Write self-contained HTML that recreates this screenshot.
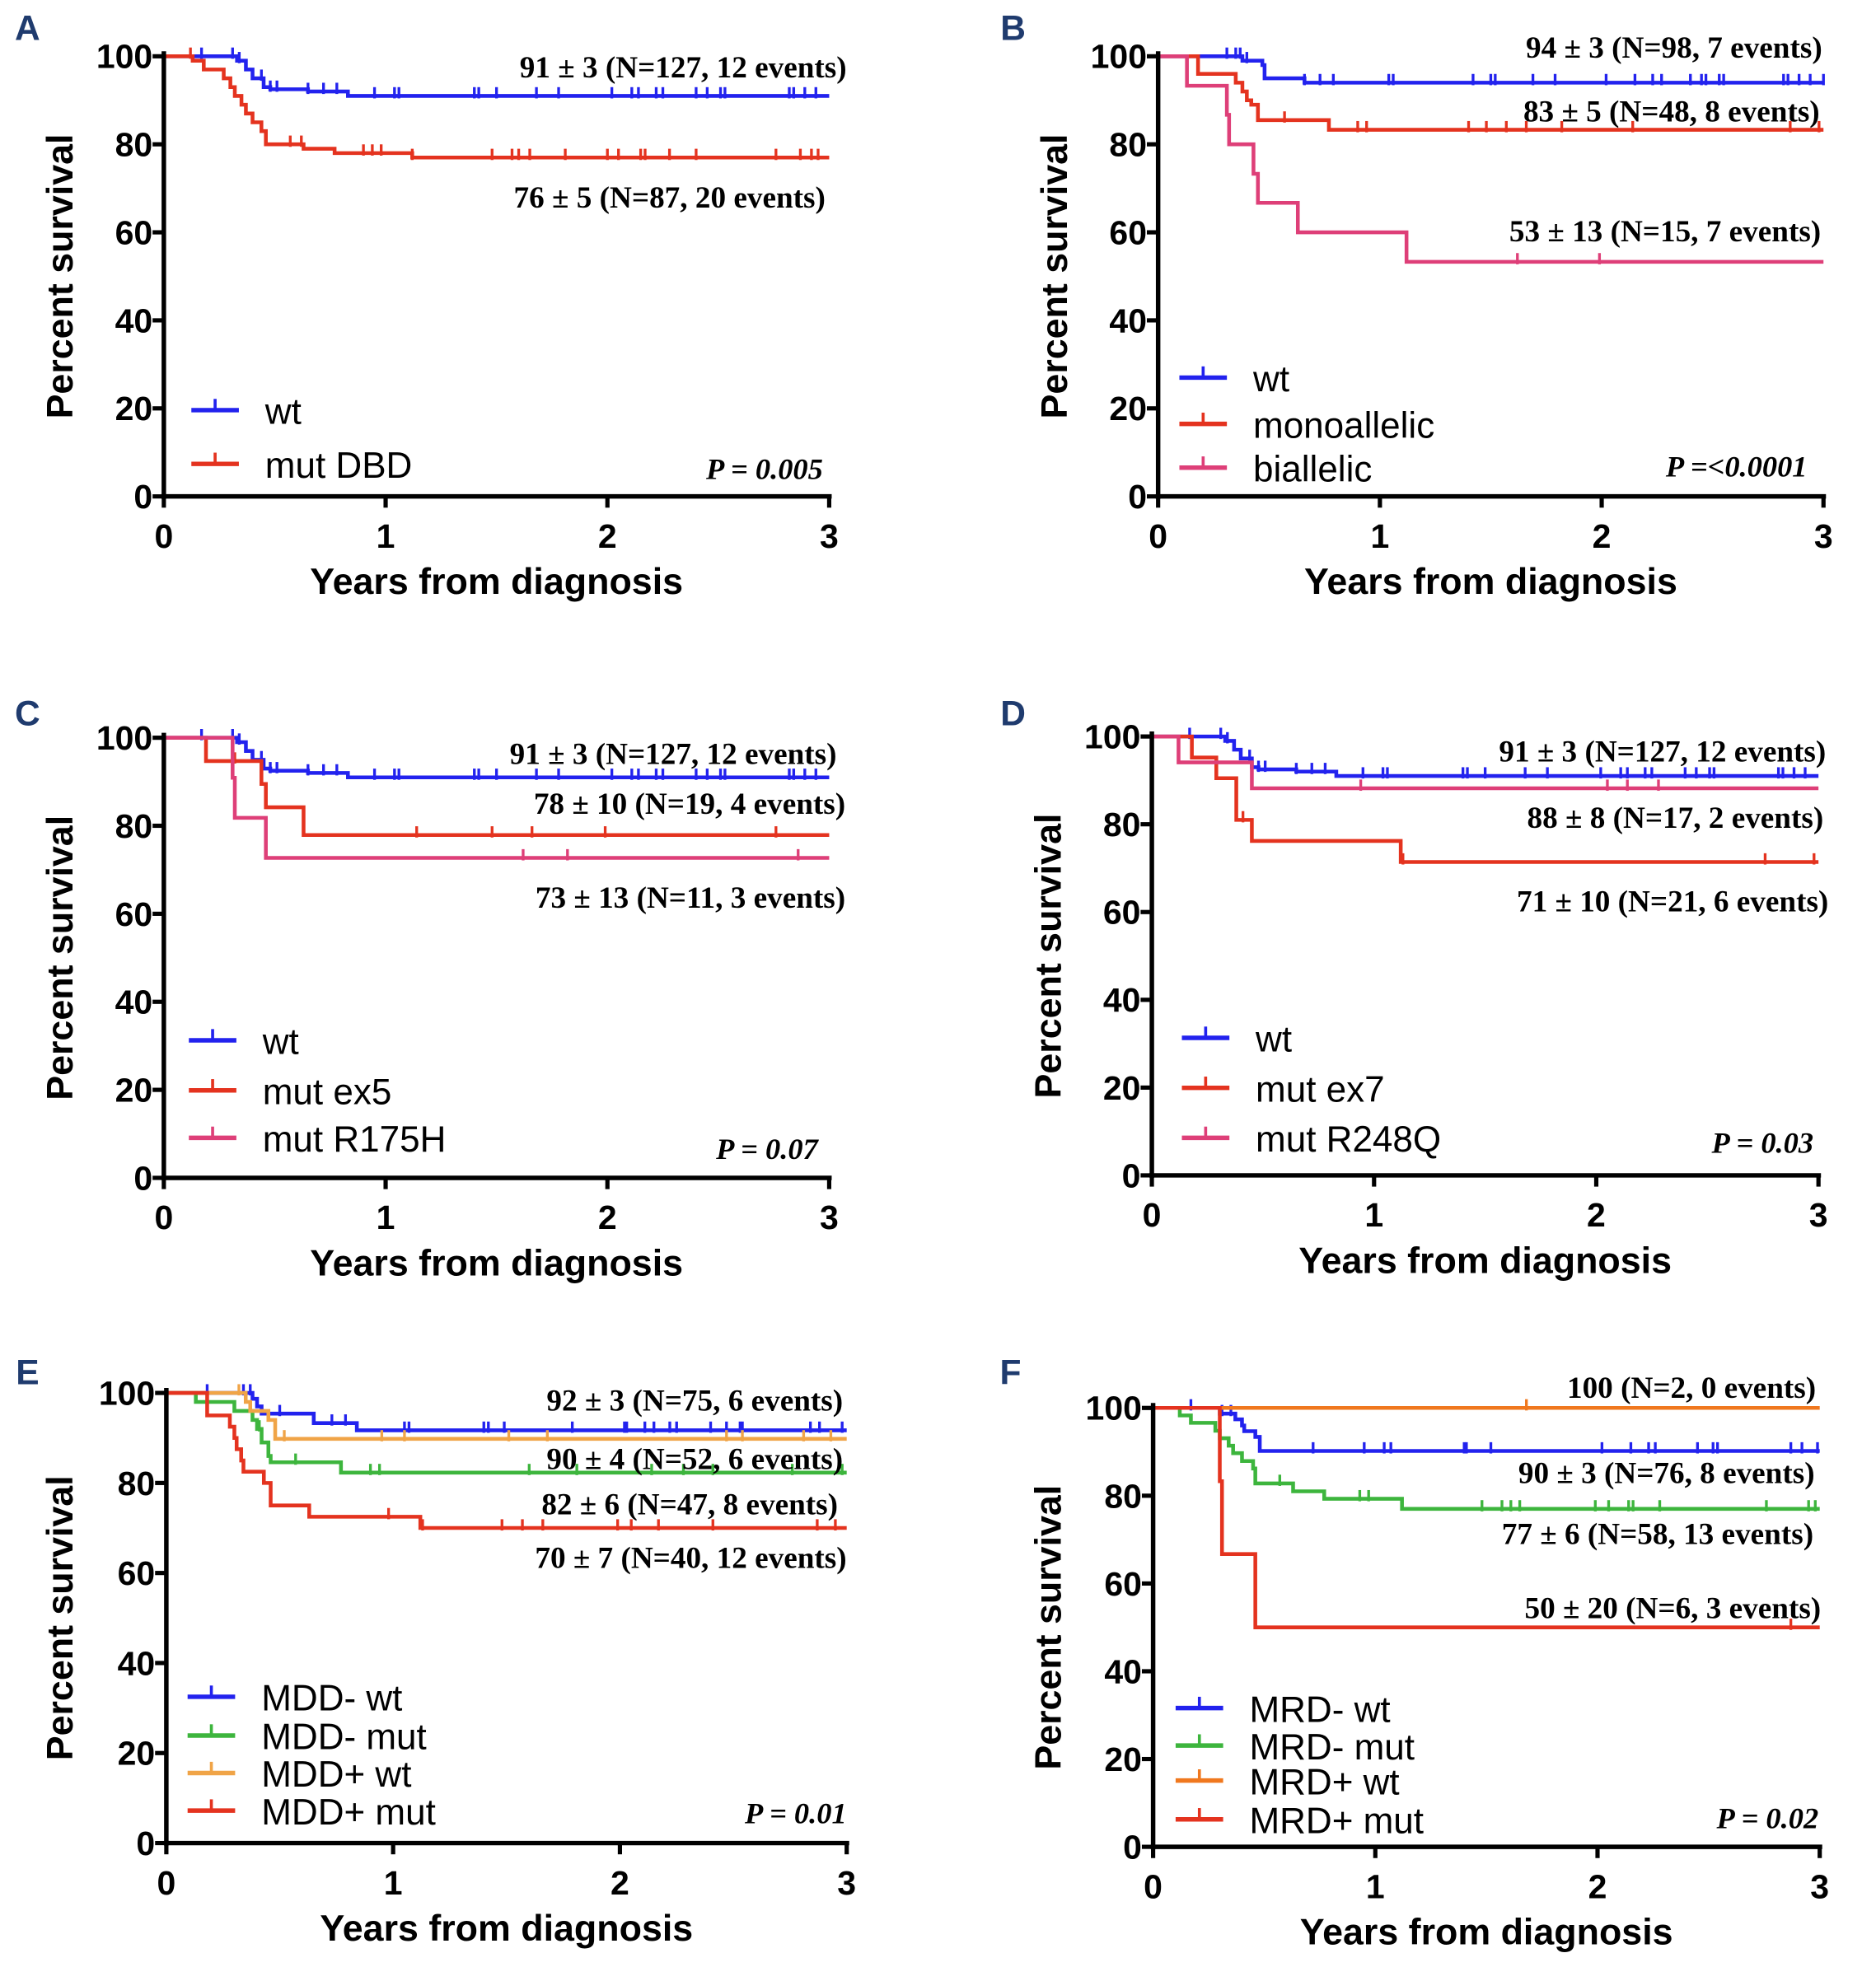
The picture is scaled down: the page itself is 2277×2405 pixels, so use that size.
<!DOCTYPE html>
<html><head><meta charset="utf-8"><style>
html,body{margin:0;padding:0;background:#fff;}
svg{display:block;}
.tick{font-family:"Liberation Sans",sans-serif;font-weight:bold;font-size:27px;fill:#000;}
.atitle{font-family:"Liberation Sans",sans-serif;font-weight:bold;font-size:29.5px;fill:#000;}
.ann{font-family:"Liberation Serif",serif;font-weight:bold;font-size:24.5px;fill:#000;}
.pv{font-family:"Liberation Serif",serif;font-style:italic;font-weight:bold;font-size:24px;fill:#000;}
.leg{font-family:"Liberation Sans",sans-serif;font-size:29px;fill:#000;}
.plab{font-family:"Liberation Sans",sans-serif;font-weight:bold;font-size:28px;fill:#1f3b6e;}
</style></head><body>
<svg id="fig" width="2277" height="2405" viewBox="0 0 1500 1584.3" xmlns="http://www.w3.org/2000/svg"></svg>
<script>
// ---- Data (years, percent survival) ----
const aWtT=[0.33,0.37,0.40,0.45,0.48,0.65,0.83];
const aWtS=[99,97,95,93,92.5,92,91];
const aWtC=[0.17,0.31,0.34,0.44,0.48,0.51,0.65,0.72,0.78,0.95,1.04,1.06,1.40,1.42,1.50,1.68,1.78,2.02,2.11,2.14,2.22,2.25,2.40,2.45,2.51,2.53,2.82,2.84,2.89,2.94];
const aMutT=[0.13,0.18,0.27,0.30,0.32,0.35,0.37,0.40,0.44,0.46,0.63,0.77,1.12];
const aMutS=[99,97,95,93,91,89,87,85,83,80,79,78,77];
const aMutC=[0.12,0.57,0.62,0.90,0.94,0.98,1.12,1.48,1.57,1.60,1.65,1.81,2.0,2.05,2.15,2.17,2.28,2.40,2.76,2.87,2.92,2.95];

const bWtT=[0.38,0.47,0.48,0.66];
const bWtS=[99,98,95,94];
const bWtC=[0.31,0.35,0.37,0.40,0.66,0.73,0.79,1.04,1.06,1.42,1.50,1.52,1.69,1.79,2.02,2.15,2.23,2.27,2.40,2.45,2.47,2.53,2.55,2.82,2.84,2.89,2.94,3.0];
const bMonoT=[0.18,0.35,0.38,0.40,0.42,0.45,0.77];
const bMonoS=[96,94,92,90,89,85.5,83.3];
const bMonoC=[0.57,0.90,0.94,1.40,1.48,1.57,1.66,1.82,2.14,2.85,2.98];
const bBiT=[0.13,0.31,0.32,0.43,0.45,0.63,1.12];
const bBiS=[93.3,86.7,80,73.3,66.7,60,53.3];
const bBiC=[1.62,1.99];

const cWtT=aWtT, cWtS=aWtS, cWtC=aWtC;
const cEx5T=[0.19,0.44,0.46,0.63];
const cEx5S=[94.7,89.5,84.2,77.9];
const cEx5C=[0.32,1.14,1.48,1.66,1.99,2.76];
const cRT=[0.31,0.32,0.46];
const cRS=[90.9,81.8,72.7];
const cRC=[1.62,1.82,2.86];

const dWtT=[0.33,0.37,0.40,0.45,0.48,0.65,0.83];
const dWtS=[99,97,95,93,92.5,92,91];
const dWtC=aWtC;
const dEx7T=[0.18,0.29,0.38,0.45,1.12];
const dEx7S=[95.2,90.5,81,76.2,71.4];
const dEx7C=[0.41,1.13,2.76,2.98];
const dRT=[0.12,0.45];
const dRS=[94.1,88.2];
const dRC=[0.94,2.05,2.14,2.28];

const eMwT=[0.38,0.40,0.42,0.65,0.84];
const eMwS=[98.7,97,95.4,93.3,91.7];
const eMwC=[0.18,0.34,0.37,0.5,0.73,0.79,1.05,1.07,1.4,1.42,1.49,1.79,2.02,2.03,2.11,2.15,2.22,2.25,2.40,2.47,2.53,2.54,2.84,2.88,2.98];
const eMmT=[0.13,0.30,0.38,0.40,0.42,0.45,0.46,0.77];
const eMmS=[98,96,94,92,89,86,84.6,82.3];
const eMmC=[0.41,0.57,0.9,0.94,1.6,1.81,2.14,2.28,2.41,2.76,2.98];
const ePwT=[0.35,0.37,0.45,0.48];
const ePwS=[98,96,94,89.8];
const ePwC=[0.32,0.52,0.95,1.05,1.51,1.68,2.47,2.54,2.81,2.93];
const ePmT=[0.18,0.28,0.30,0.31,0.33,0.34,0.43,0.46,0.63,1.12];
const ePmS=[95,92.5,90,87.5,85,82.5,80,75,72.5,70];
const ePmC=[0.98,1.13,1.48,1.57,1.66,1.99,2.05,2.17,2.41,2.87,2.95];

const fMwT=[0.30,0.37,0.40,0.41,0.46,0.48];
const fMwS=[98.7,97.4,96,94.7,93.4,90.2];
const fMwC=[0.17,0.31,0.35,0.72,0.95,1.04,1.07,1.40,1.41,1.52,2.02,2.15,2.23,2.26,2.45,2.52,2.54,2.87,2.92,2.99];
const fMmT=[0.12,0.17,0.28,0.30,0.34,0.36,0.40,0.45,0.46,0.63,0.77,1.12];
const fMmS=[98.3,96.6,94.8,93.1,91.4,89.7,87.9,86.2,82.8,81,79.3,77];
const fMmC=[0.57,0.93,0.97,1.48,1.57,1.61,1.65,1.99,2.05,2.14,2.16,2.28,2.76,2.95,2.98];
const fPwT=[];
const fPwS=[];
const fPwC=[1.68];
const fPmT=[0.30,0.31,0.46];
const fPmS=[83.3,66.7,50];
const fPmC=[2.87];

const xTicks=[0,1,2,3];
const yTicks=[0,20,40,60,80,100];

const BLUE="#2222ee", RED="#e4331f", PINK="#de3f78", GREEN="#3db53d", ORANGE_E="#f0a447", ORANGE_F="#f0781e";

const NS="http://www.w3.org/2000/svg";
const svg=document.getElementById('fig');
function mk(tag,attrs,parent){const e=document.createElementNS(NS,tag);for(const k in attrs)e.setAttribute(k,attrs[k]);(parent||svg).appendChild(e);return e;}

const panels=[
 {id:'a',letter:'A',lx:22,ly:32,x0:131,x3:663,y100:45,y0:397,ytx:48,
  series:[['wt',aWtT,aWtS,aWtC,BLUE],['mut DBD',aMutT,aMutS,aMutC,RED]],
  ann:[['91 ± 3 (N=127, 12 events)',677,62],['76 ± 5 (N=87, 20 events)',660,166]],
  leg:{x1:153,x2:191,ys:[328,371]}, p:['P = 0.005',658,383]},
 {id:'b',letter:'B',lx:810,ly:32,x0:926,x3:1458,y100:45,y0:397,ytx:843,
  series:[['wt',bWtT,bWtS,bWtC,BLUE],['monoallelic',bMonoT,bMonoS,bMonoC,RED],['biallelic',bBiT,bBiS,bBiC,PINK]],
  ann:[['94 ± 3 (N=98, 7 events)',1457,46],['83 ± 5 (N=48, 8 events)',1455,97],['53 ± 13 (N=15, 7 events)',1456,193]],
  leg:{x1:943,x2:981,ys:[302,339,374]}, p:['P =<0.0001',1445,381]},
 {id:'c',letter:'C',lx:22,ly:580,x0:131,x3:663,y100:590,y0:942,ytx:48,
  series:[['wt',cWtT,cWtS,cWtC,BLUE],['mut ex5',cEx5T,cEx5S,cEx5C,RED],['mut R175H',cRT,cRS,cRC,PINK]],
  ann:[['91 ± 3 (N=127, 12 events)',669,611],['78 ± 10 (N=19, 4 events)',676,651],['73 ± 13 (N=11, 3 events)',676,726]],
  leg:{x1:151,x2:189,ys:[832,872,910]}, p:['P = 0.07',654,927]},
 {id:'d',letter:'D',lx:810,ly:580,x0:921,x3:1454,y100:589,y0:940,ytx:838,
  series:[['wt',dWtT,dWtS,dWtC,BLUE],['mut ex7',dEx7T,dEx7S,dEx7C,RED],['mut R248Q',dRT,dRS,dRC,PINK]],
  ann:[['91 ± 3 (N=127, 12 events)',1460,609],['88 ± 8 (N=17, 2 events)',1458,662],['71 ± 10 (N=21, 6 events)',1462,729]],
  leg:{x1:945,x2:983,ys:[830,870,910]}, p:['P = 0.03',1450,922]},
 {id:'e',letter:'E',lx:22,ly:1107,x0:133,x3:677,y100:1114,y0:1474,ytx:48,
  series:[['MDD- wt',eMwT,eMwS,eMwC,BLUE],['MDD- mut',eMmT,eMmS,eMmC,GREEN],['MDD+ wt',ePwT,ePwS,ePwC,ORANGE_E],['MDD+ mut',ePmT,ePmS,ePmC,RED]],
  ann:[['92 ± 3 (N=75, 6 events)',674,1128],['90 ± 4 (N=52, 6 events)',674,1175],['82 ± 6 (N=47, 8 events)',670,1211],['70 ± 7 (N=40, 12 events)',677,1254]],
  leg:{x1:150,x2:188,ys:[1357,1388,1418,1448]}, p:['P = 0.01',677,1458]},
 {id:'f',letter:'F',lx:808,ly:1107,x0:922,x3:1455,y100:1126,y0:1477,ytx:838,
  series:[['MRD- wt',fMwT,fMwS,fMwC,BLUE],['MRD- mut',fMmT,fMmS,fMmC,GREEN],['MRD+ wt',fPwT,fPwS,fPwC,ORANGE_F],['MRD+ mut',fPmT,fPmS,fPmC,RED]],
  ann:[['100  (N=2, 0 events)',1452,1118],['90 ± 3 (N=76, 8 events)',1451,1186],['77 ± 6 (N=58, 13 events)',1450,1235],['50 ± 20 (N=6, 3 events)',1456,1294]],
  leg:{x1:940,x2:978,ys:[1366,1396,1424,1455]}, p:['P = 0.02',1454,1462]}
];

panels.forEach(P=>{
  const g=mk('g',{});
  
  
  const X=t=>P.x0+(P.x3-P.x0)*t/3;
  const Y=s=>P.y0-(P.y0-P.y100)*s/100;
  const lab=mk('text',{x:P.lx,y:P.ly,'text-anchor':'middle',class:'plab'},g);
  lab.textContent=P.letter;
  
  
  P.series.forEach((S,si)=>{
    const [name,T,Sv,C,col]=S;
    let d='M'+X(0)+','+Y(100);
    for(let i=0;i<T.length;i++){d+=' H'+X(T[i])+' V'+Y(Sv[i]);}
    d+=' H'+X(3);
    const sg=mk('g',{},g);
    
    
    mk('path',{d:d,fill:'none',stroke:col,'stroke-width':3},sg);
    function survAt(t){let s=100;for(let i=0;i<T.length;i++){if(T[i]<=t)s=Sv[i];}return s;}
    C.forEach(c=>{
      const y=Y(survAt(c));
      const tk=mk('line',{x1:X(c),x2:X(c),y1:y-7,y2:y+2,stroke:col,'stroke-width':2.2},sg);
      
      
    });
    const ly=P.leg.ys[si];
    const lg=mk('g',{},g);
    
    
    mk('line',{x1:P.leg.x1,x2:P.leg.x2,y1:ly,y2:ly,stroke:col,'stroke-width':3.6},lg);
    mk('line',{x1:(P.leg.x1+P.leg.x2)/2,x2:(P.leg.x1+P.leg.x2)/2,y1:ly-9,y2:ly,stroke:col,'stroke-width':2.4},lg);
    const lt=mk('text',{x:P.leg.x2+21,y:ly+11,class:'leg'},lg);
    lt.textContent=name;
  });
  const ax=mk('g',{},g);
  
  
  mk('line',{x1:P.x0,x2:P.x0,y1:P.y100-4,y2:P.y0+2,stroke:'#000','stroke-width':3.6},ax);
  mk('line',{x1:P.x0-2,x2:P.x3+2,y1:P.y0,y2:P.y0,stroke:'#000','stroke-width':3.6},ax);
  yTicks.forEach(v=>{
    mk('line',{x1:P.x0-9,x2:P.x0,y1:Y(v),y2:Y(v),stroke:'#000','stroke-width':3.4},ax);
    const t=mk('text',{x:P.x0-9,y:Y(v)+9.5,'text-anchor':'end',class:'tick'},ax);
    t.textContent=v;
    
    
  });
  xTicks.forEach(v=>{
    mk('line',{x1:X(v),x2:X(v),y1:P.y0,y2:P.y0+9,stroke:'#000','stroke-width':3.4},ax);
    const t=mk('text',{x:X(v),y:P.y0+41,'text-anchor':'middle',class:'tick'},ax);
    t.textContent=v;
    
    
  });
  const xt=mk('text',{x:(P.x0+P.x3)/2,y:P.y0+78,'text-anchor':'middle',class:'atitle'},g);
  xt.textContent='Years from diagnosis';
  
  
  const yc=(P.y0+P.y100)/2;
  const yt=mk('text',{x:P.ytx+10,y:yc,'text-anchor':'middle',class:'atitle',transform:'rotate(-90 '+(P.ytx+10)+' '+yc+')'},g);
  yt.textContent='Percent survival';
  
  
  P.ann.forEach(a=>{
    const t=mk('text',{x:a[1],y:a[2],'text-anchor':'end',class:'ann'},g);
    t.textContent=a[0];
    
    
  });
  const pt=mk('text',{x:P.p[1],y:P.p[2],'text-anchor':'end',class:'pv'},g);
  pt.textContent=P.p[0];
  
  
});
</script>
</body></html>
